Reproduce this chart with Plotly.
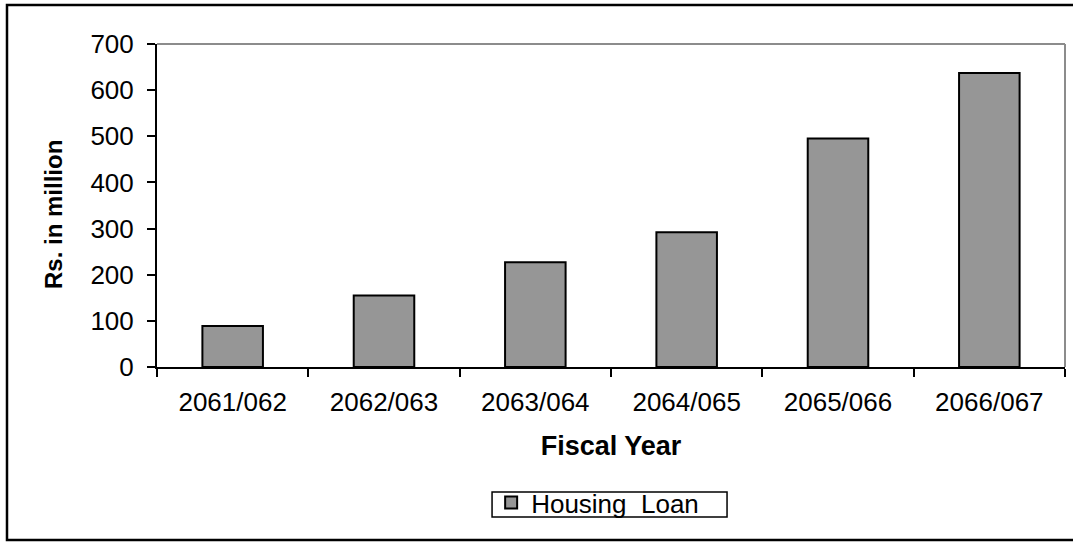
import plotly.graph_objects as go

fiscal_years = ["2061/062", "2062/063", "2063/064", "2064/065", "2065/066", "2066/067"]
housing_loan = [89, 155, 227, 292, 495, 637]
series_name = "Housing\u00a0 Loan"
y_ticks = [0, 100, 200, 300, 400, 500, 600, 700]

FONT = "Liberation Sans, Arial, sans-serif"

fig = go.Figure(
    go.Bar(
        x=fiscal_years,
        y=housing_loan,
        name=series_name,
        width=0.4,
        marker=dict(color="#969696", line=dict(color="#000000", width=2)),
        showlegend=True,
    )
)

fig.update_layout(
    width=1073,
    height=542,
    margin=dict(l=157, r=8, t=44, b=175),
    paper_bgcolor="white",
    plot_bgcolor="white",
    font=dict(family=FONT, size=26, color="#000000"),
    showlegend=True,
    legend=dict(
        orientation="h",
        x=0.368,
        y=-0.4195,
        xanchor="left",
        yanchor="middle",
        borderwidth=0,
        bgcolor="rgba(0,0,0,0)",
        font=dict(family=FONT, size=26),
    ),
)

fig.update_xaxes(
    type="category",
    showline=True,
    linecolor="#000000",
    linewidth=2,
    ticks="outside",
    tickson="boundaries",
    ticklen=8,
    tickwidth=2,
    tickcolor="#000000",
    ticklabelstandoff=11,
    showgrid=False,
    title=dict(text="<b>Fiscal Year</b>", font=dict(family=FONT, size=27), standoff=20),
)

fig.update_yaxes(
    range=[0, 700],
    tickvals=y_ticks,
    showline=True,
    linecolor="#000000",
    linewidth=2,
    ticks="outside",
    ticklen=8,
    tickwidth=2,
    tickcolor="#000000",
    ticklabelstandoff=8,
    showgrid=False,
    zeroline=False,
)

# Vertical axis title
fig.add_annotation(
    text="<b>Rs. in million</b>",
    xref="paper", yref="paper",
    x=-0.1134, y=0.4706,
    xanchor="center", yanchor="middle",
    textangle=-90,
    showarrow=False,
    font=dict(family=FONT, size=24, color="#000000"),
)

# Plot-area frame on the top and right sides
fig.add_shape(type="line", xref="paper", yref="paper", x0=0, y0=1, x1=1, y1=1,
              line=dict(color="#8c8c8c", width=2))
fig.add_shape(type="line", xref="paper", yref="paper", x0=1, y0=0, x1=1, y1=1,
              line=dict(color="#8c8c8c", width=2))

# Legend frame
fig.add_shape(type="rect", xref="paper", yref="paper",
              x0=0.369, y0=-0.4644, x1=0.6278, y1=-0.387,
              line=dict(color="#000000", width=1.5))

# Outer chart border
fig.add_shape(type="rect", xref="paper", yref="paper",
              x0=-0.1652, y0=-0.5356, x1=1.05, y1=1.1207,
              line=dict(color="#000000", width=2.5), layer="below")

fig.write_html("out.html")
